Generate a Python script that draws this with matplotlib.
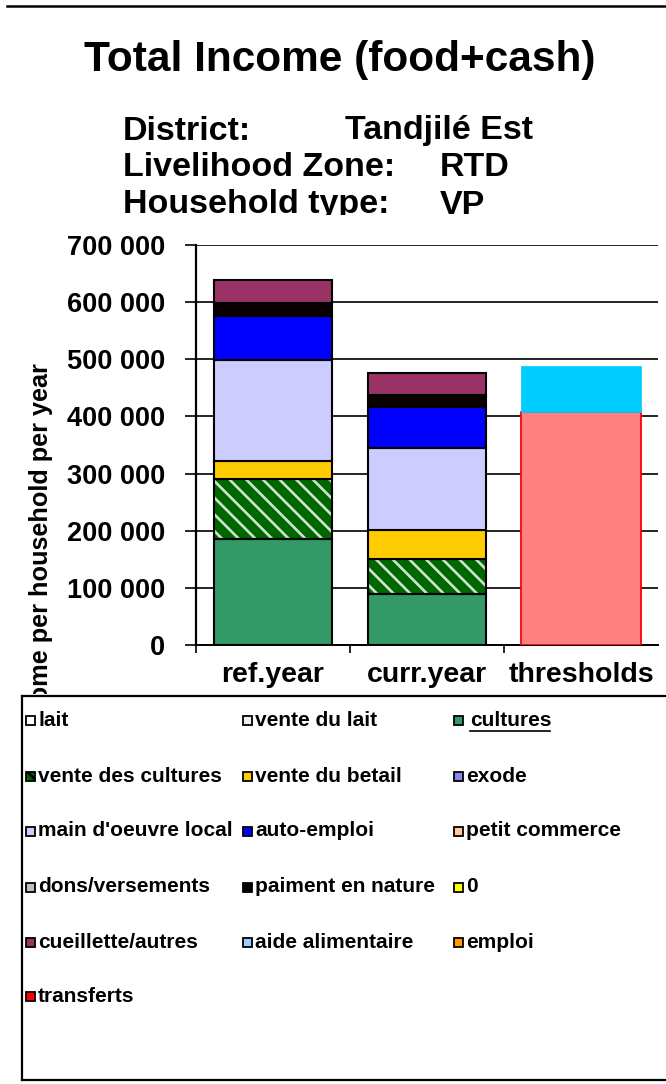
import numpy as np
import matplotlib
matplotlib.use("Agg")
import matplotlib.pyplot as plt
from matplotlib.patches import Rectangle
from matplotlib.lines import Line2D
from matplotlib.transforms import Bbox

plt.rcParams['font.family'] = ['Liberation Sans', 'DejaVu Sans']
plt.rcParams['font.weight'] = 'bold'
plt.rcParams['hatch.linewidth'] = 1.9

# data
categories = ["ref.year", "curr.year", "thresholds"]
sources = ["lait", "vente du lait", "cultures", "vente des cultures", "vente du betail",
           "exode", "main d'oeuvre local", "auto-emploi", "petit commerce",
           "dons/versements", "paiment en nature", "0", "cueillette/autres",
           "aide alimentaire", "emploi", "transferts"]
colors = ["#FFFFFF", "#EEEEEE", "#339966", "#006600", "#FFCC00",
          "#8888EE", "#CCCCFF", "#0000FF", "#FFCC99",
          "#C0C0C0", "#0A0000", "#FFFF00", "#993366",
          "#99CCFF", "#FF9900", "#FF0000"]
ref_year = [0, 0, 185000, 105000, 32000, 0, 177000, 77000, 0, 0, 22000, 0, 40000, 0, 0, 0]
curr_year = [0, 0, 89000, 61000, 51000, 0, 143000, 72000, 0, 0, 22000, 0, 37500, 0, 0, 0]
survival = 408000
livelihood_protection = 80000  # stacked on top of survival
hatched = "vente des cultures"

yticks = np.arange(0, 700001, 100000)
ytick_labels = [f"{v:,}".replace(",", " ") for v in yticks]

W, H = 666, 1084
fig = plt.figure(figsize=(W / 100, H / 100), dpi=100)


def fy(py):
    return 1 - py / H


# main plot
ax = fig.add_axes([196 / W, fy(645), 462 / W, 400 / H])
ax.set_xlim(-0.5, 2.5)
ax.set_ylim(0, 700000)
for y in yticks:
    ax.axhline(y, color="black", lw=1.2, zorder=1)

x = np.arange(2)
bw = 0.765
bottom = np.zeros(2)
for name, col, r, c in zip(sources, colors, ref_year, curr_year):
    vals = np.array([r, c], dtype=float)
    if not vals.any():
        continue
    if name == hatched:
        ax.bar(x, vals, bw, bottom=bottom, color=col, edgecolor="#CFE3CF",
               hatch="\\\\", linewidth=0, zorder=2)
        ax.bar(x, vals, bw, bottom=bottom, fill=False, edgecolor="black",
               linewidth=1.5, zorder=3)
    else:
        ax.bar(x, vals, bw, bottom=bottom, color=col, edgecolor="black",
               linewidth=1.5, zorder=3)
    bottom += vals

ax.bar(2, survival, 0.78, color="#FF8080", edgecolor="#FF0000", linewidth=1.3, zorder=3)
ax.bar(2, livelihood_protection, 0.78, bottom=survival, color="#00CCFF",
       edgecolor="#00CCFF", linewidth=0.5, zorder=3)

for s in ["top", "right"]:
    ax.spines[s].set_visible(False)
ax.spines["left"].set_linewidth(1.6)
ax.spines["bottom"].set_linewidth(1.4)

ax.set_yticks(yticks, ytick_labels)
ax.tick_params(axis="y", direction="out", length=8, width=1.2, pad=14, labelsize=19.5)
ax.set_xticks([0, 1, 2], categories)
ax.set_xticks([-0.5, 0.5, 1.5], minor=True)
ax.tick_params(axis="x", which="major", length=0, pad=12, labelsize=20.5)
ax.tick_params(axis="x", which="minor", direction="out", length=6, width=1.2)

ylab = ax.set_ylabel("Income per household per year", fontsize=18.2, fontweight="bold")
ax.yaxis.set_label_coords(-0.31, 0.236)
# the legend box hides the start of the axis title
ylab.set_clip_box(Bbox([[0, H - 694], [W, H]]))
ylab.set_clip_on(True)

# titles
fig.text(340 / W, fy(60), "Total Income (food+cash)", ha="center", va="center",
         fontsize=30.5, fontweight="bold")
info_rows = [("District:", "Tandjilé Est", 345), ("Livelihood Zone:", "RTD", 440),
             ("Household type:", "VP", 440)]
for i, (lbl, val, vx) in enumerate(info_rows):
    yy = fy(131 + 37 * i)
    fig.text(123 / W, yy, lbl, va="center", fontsize=24.5, fontweight="bold")
    fig.text(vx / W, yy, val, va="center", fontsize=24.5, fontweight="bold")
fig.add_artist(Rectangle((0, fy(234)), 1, 19 / H, transform=fig.transFigure,
                         facecolor="white", edgecolor="none", zorder=4))
fig.add_artist(Line2D([7 / W, 1], [fy(6), fy(6)], color="black", lw=1.8))

# legend box
lax = fig.add_axes([22 / W, fy(1080), (668 - 22) / W, (1080 - 696) / H], zorder=5)
lax.set_xlim(22, 668)
lax.set_ylim(1080, 696)
lax.set_xticks([])
lax.set_yticks([])
lax.set_facecolor("white")
for s in lax.spines.values():
    s.set_linewidth(1.6)
    s.set_color("black")

col_x = [26, 243, 454]
row_y = [720, 776, 831, 887, 942, 996]
for i, (name, col) in enumerate(zip(sources, colors)):
    mx = col_x[i % 3]
    my = row_y[i // 3]
    lax.add_patch(Rectangle((mx, my - 4.5), 9, 9, facecolor=col, edgecolor="black",
                            lw=1.3, hatch="\\\\\\" if name == hatched else None))
    tx = mx + 16 if name == "cultures" else mx + 12
    lax.text(tx, my, name, va="center", ha="left", fontsize=15, fontweight="bold")
    if name == "cultures":
        lax.plot([tx, tx + 80], [my + 11, my + 11], color="black", lw=1.2)

fig.savefig("out.png", dpi=100)
